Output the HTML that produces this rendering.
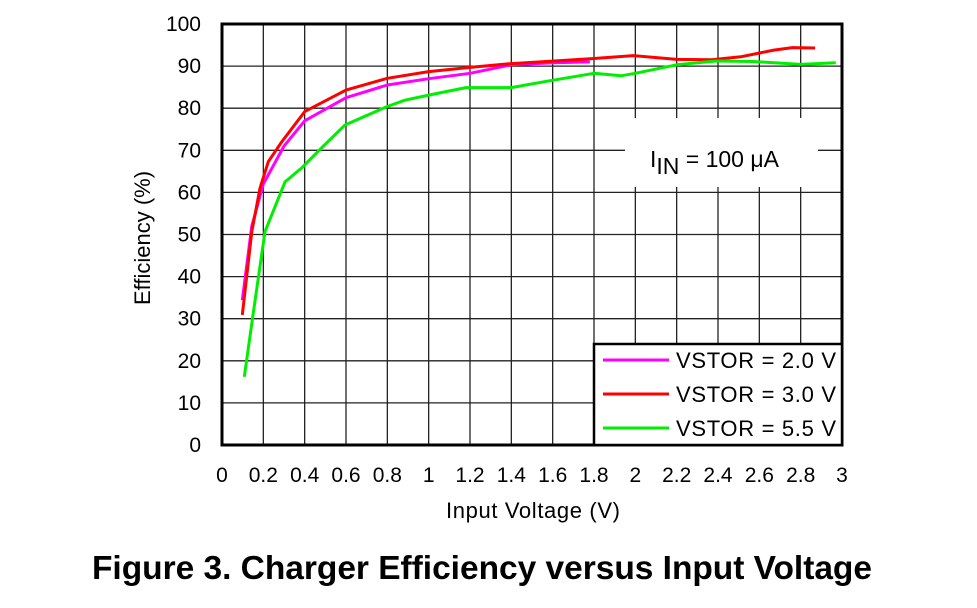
<!DOCTYPE html>
<html><head><meta charset="utf-8"><style>
body{margin:0;background:#fff;}
svg text{font-family:"Liberation Sans",Arial,sans-serif;fill:#000;}
</style></head><body>
<svg id="chart" width="977" height="603" viewBox="0 0 977 603" xmlns="http://www.w3.org/2000/svg">
<g id="grid"></g>
<g id="series"></g>
<g id="overlay"></g>
</svg>
<script>
const xTicks=[0,0.2,0.4,0.6,0.8,1,1.2,1.4,1.6,1.8,2,2.2,2.4,2.6,2.8,3];
const xTickLabels=["0","0.2","0.4","0.6","0.8","1","1.2","1.4","1.6","1.8","2","2.2","2.4","2.6","2.8","3"];
const yTicks=[0,10,20,30,40,50,60,70,80,90,100];
const v20x=[0.098,0.144,0.2,0.3,0.4,0.6,0.8,1.0,1.2,1.4,1.6,1.78];
const v20y=[34.4,52,62,71,77,82.5,85.5,87,88.3,90.3,90.8,91.0];
const v30x=[0.098,0.144,0.184,0.224,0.289,0.4,0.6,0.8,1.0,1.2,1.4,1.54,1.8,1.99,2.2,2.37,2.51,2.67,2.76,2.87];
const v30y=[30.9,50.7,61,67.3,72,79.2,84.3,87.1,88.7,89.7,90.6,91.0,91.8,92.5,91.6,91.5,92.2,93.8,94.4,94.3];
const v55x=[0.108,0.15,0.208,0.305,0.385,0.48,0.595,0.8,0.885,1.0,1.18,1.4,1.56,1.8,1.93,2.0,2.2,2.39,2.57,2.8,2.97];
const v55y=[16.2,30.9,50.7,62.5,65.8,70.5,76,80.4,81.9,83.1,84.9,84.9,86.3,88.3,87.7,88.3,90.3,91.2,91.1,90.4,90.8];

const L=222,R=842,T=24,B=445;
const sx=v=>L+(v-0)/(3-0)*(R-L);
const sy=v=>B-(v-0)/(100-0)*(B-T);
const NS="http://www.w3.org/2000/svg";
function mk(tag,attrs,parent,text){const e=document.createElementNS(NS,tag);for(const k in attrs)e.setAttribute(k,attrs[k]);if(text!==undefined)e.textContent=text;parent.appendChild(e);return e;}
const grid=document.getElementById('grid'),ser=document.getElementById('series');
xTicks.forEach((t,i)=>{
  const x=sx(t);
  const ln=mk('line',{x1:x,x2:x,y1:T,y2:B,stroke:'#222','stroke-width':1.3},grid);
  
  
  const tx=mk('text',{x:x,y:482,'text-anchor':'middle','font-size':21},grid,xTickLabels[i]);
  
  
});
yTicks.forEach(t=>{
  const y=sy(t);
  const ln=mk('line',{x1:L,x2:R,y1:y,y2:y,stroke:'#222','stroke-width':1.3},grid);
  
  
  const tx=mk('text',{x:201,y:y+7,'text-anchor':'end','font-size':21},grid,String(t));
  
  
});
function path(xs,ys){return xs.map((v,i)=>(i?'L':'M')+sx(v).toFixed(1)+','+sy(ys[i]).toFixed(1)).join(' ');}
const s1=mk('path',{d:path(v20x,v20y),fill:'none',stroke:'#ff00ff','stroke-width':3,'stroke-linejoin':'round'},ser);


const s2=mk('path',{d:path(v30x,v30y),fill:'none',stroke:'#ff0000','stroke-width':3,'stroke-linejoin':'round'},ser);


const s3=mk('path',{d:path(v55x,v55y),fill:'none',stroke:'#00ee00','stroke-width':3,'stroke-linejoin':'round'},ser);


</script>
<script>
(function(){
const ov=document.getElementById('overlay');
ov.innerHTML=`
<rect x="625" y="118" width="193" height="69" fill="#fff"/>
<text x="650" y="167" font-size="23">I<tspan dy="7">IN</tspan><tspan dy="-7"> = 100 μA</tspan></text>
<rect x="222" y="24" width="620" height="421" fill="none" stroke="#000" stroke-width="3"/>
<g>
<rect x="594" y="344" width="248" height="101" fill="#fff" stroke="#000" stroke-width="2.5"/>
<line x1="603" y1="360" x2="669" y2="360" stroke="#ff00ff" stroke-width="3"/>
<text x="676" y="368" font-size="22" textLength="160">VSTOR = 2.0 V</text>
<line x1="603" y1="394" x2="669" y2="394" stroke="#ff0000" stroke-width="3"/>
<text x="676" y="402" font-size="22" textLength="160">VSTOR = 3.0 V</text>
<line x1="603" y1="428" x2="669" y2="428" stroke="#00ee00" stroke-width="3"/>
<text x="676" y="436" font-size="22" textLength="160">VSTOR = 5.5 V</text>
</g>
<text x="446" y="518" font-size="22" textLength="174">Input Voltage (V)</text>
<text transform="translate(150,238) rotate(-90)" text-anchor="middle" font-size="22">Efficiency (%)</text>
<text x="92" y="579" font-size="33.5" font-weight="bold" textLength="780">Figure 3. Charger Efficiency versus Input Voltage</text>`;
})();
</script>
</body></html>
